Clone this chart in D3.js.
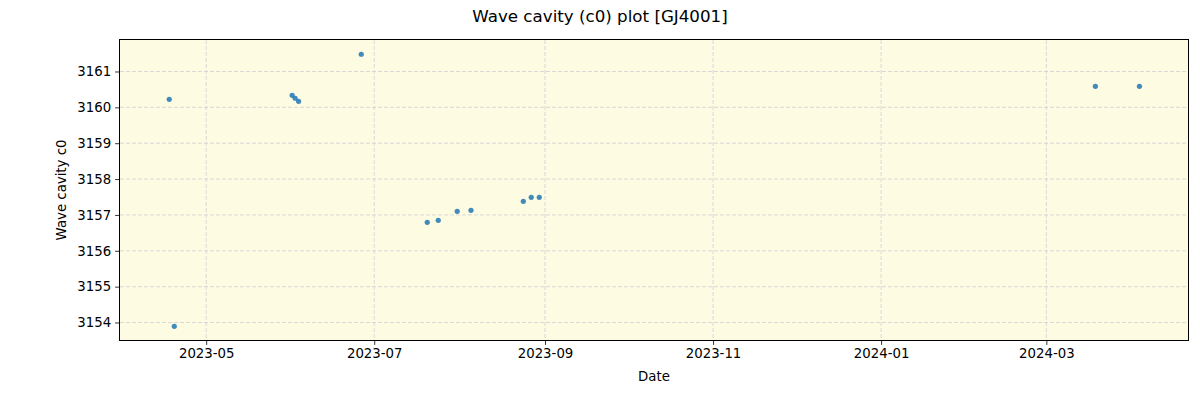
<!DOCTYPE html>
<html><head><meta charset="utf-8">
<script src="https://cdn.jsdelivr.net/npm/d3@7"></script>
<style>body{margin:0;background:#fff}text{font-family:"DejaVu Sans",sans-serif}</style>
</head><body><svg id="c" width="1200" height="400"></svg>
<script>
const dates = ["2023-04-17T14:00","2023-04-19T10:00","2023-06-01T05:00","2023-06-02T07:00","2023-06-03T13:00","2023-06-26T07:00","2023-07-20T06:00","2023-07-24T06:00","2023-07-31T03:00","2023-08-05T03:00","2023-08-24T03:00","2023-08-27T00:00","2023-08-29T22:00","2024-03-18T19:00","2024-04-03T19:00"];
const values = [3160.225,3153.894,3160.336,3160.253,3160.169,3161.48,3156.794,3156.850,3157.101,3157.129,3157.38,3157.492,3157.492,3160.587,3160.587];
const yTicks = [3154,3155,3156,3157,3158,3159,3160,3161];
const xTicks = ["2023-05-01","2023-07-01","2023-09-01","2023-11-01","2024-01-01","2024-03-01"];
const xDomain = ["2023-03-30T17:00","2024-04-21T10:00"];
const yDomain = [3153.512,3161.878];

const svg = d3.select("#c");
const L=120,R=1188,T=40,B=340;
const parse = d3.isoParse;
const x = d3.scaleTime().domain(xDomain.map(parse)).range([L,R]);
const y = d3.scaleLinear().domain(yDomain).range([B,T]);

svg.append("rect").attr("x",L).attr("y",T).attr("width",R-L).attr("height",B-T).attr("fill","#fdfbe2");

const g = svg.append("g");
g.selectAll(".gx").data(xTicks).join("line").attr("x1",d=>x(parse(d))).attr("x2",d=>x(parse(d))).attr("y1",T).attr("y2",B)
 .attr("stroke","#cfcfd4").attr("stroke-width",0.8).attr("stroke-dasharray","4,2");
g.selectAll(".gy").data(yTicks).join("line").attr("y1",d=>y(d)).attr("y2",d=>y(d)).attr("x1",L).attr("x2",R)
 .attr("stroke","#cfcfd4").attr("stroke-width",0.8).attr("stroke-dasharray","4,2");

svg.selectAll("circle").data(dates).join("circle").attr("cx",d=>x(parse(d))).attr("cy",(d,i)=>y(values[i])).attr("r",2.6)
 .attr("fill","#1f77b4").attr("fill-opacity",0.85);

const fmt = d3.timeFormat("%Y-%m");
const xa = svg.append("g").attr("transform",`translate(0,${B})`)
 .call(d3.axisBottom(x).tickValues(xTicks.map(parse)).tickFormat(fmt).tickSize(4.9).tickPadding(4));
const ya = svg.append("g").attr("transform",`translate(${L},0)`)
 .call(d3.axisLeft(y).tickValues(yTicks).tickFormat(d3.format("d")).tickSize(4.9).tickPadding(4));
[xa,ya].forEach(a=>{a.select(".domain").remove();a.selectAll("text").attr("font-size","13.3px").attr("fill","#000").style("font-family","DejaVu Sans");a.selectAll("line").attr("stroke","#000").attr("stroke-width",0.8);});

svg.append("rect").attr("x",L-0.5).attr("y",T-0.5).attr("width",R-L+1).attr("height",B-T+1).attr("fill","none").attr("stroke","#000").attr("stroke-width",1);

svg.append("text").attr("x",600).attr("y",22).attr("text-anchor","middle").attr("font-size","16.7px").text("Wave cavity (c0) plot [GJ4001]");
svg.append("text").attr("x",654).attr("y",381).attr("text-anchor","middle").attr("font-size","13.3px").text("Date");
svg.append("text").attr("transform","translate(66,190) rotate(-90)").attr("text-anchor","middle").attr("font-size","13.3px").text("Wave cavity c0");
</script></body></html>
